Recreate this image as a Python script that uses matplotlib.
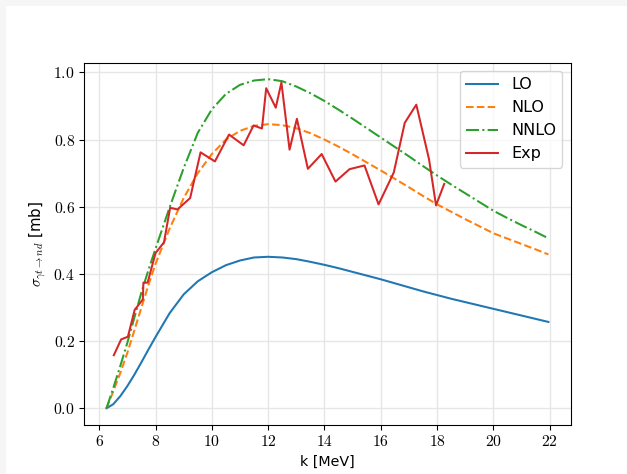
import matplotlib
matplotlib.use("Agg")
import matplotlib.pyplot as plt
from matplotlib.patches import Rectangle
from matplotlib.ticker import FormatStrFormatter

plt.rcParams["mathtext.fontset"] = "cm"

# Photon energy grid for the theory curves [MeV]
k_theory = [6.26, 6.5, 6.75, 7.0, 7.25, 7.5, 7.75, 8.0, 8.5, 9.0, 9.5, 10.0,
            10.5, 11.0, 11.5, 12.0, 12.5, 13.0, 13.5, 14.0, 14.5, 15.0, 15.5,
            16.0, 16.5, 17.0, 17.5, 18.0, 18.5, 19.0, 19.5, 20.0, 20.5, 21.0,
            21.5, 21.95]

sigma_lo = [0.0, 0.012, 0.036, 0.066, 0.100, 0.137, 0.175, 0.212, 0.283,
            0.339, 0.378, 0.405, 0.426, 0.440, 0.449, 0.451, 0.449, 0.444,
            0.436, 0.427, 0.417, 0.406, 0.395, 0.384, 0.372, 0.360, 0.348,
            0.337, 0.326, 0.316, 0.306, 0.296, 0.286, 0.276, 0.266, 0.257]

sigma_nlo = [0.0, 0.050, 0.105, 0.165, 0.232, 0.300, 0.367, 0.430, 0.535,
             0.626, 0.700, 0.757, 0.800, 0.826, 0.841, 0.846, 0.843, 0.834,
             0.819, 0.800, 0.779, 0.756, 0.732, 0.708, 0.683, 0.658, 0.632,
             0.607, 0.585, 0.563, 0.542, 0.521, 0.505, 0.489, 0.473, 0.458]

sigma_nnlo = [0.0, 0.060, 0.126, 0.195, 0.270, 0.345, 0.412, 0.475, 0.598,
              0.715, 0.820, 0.890, 0.936, 0.963, 0.976, 0.980, 0.974, 0.958,
              0.938, 0.915, 0.889, 0.862, 0.834, 0.806, 0.778, 0.750, 0.721,
              0.693, 0.666, 0.640, 0.614, 0.588, 0.566, 0.545, 0.525, 0.506]

# Measured cross section
k_exp = [6.52, 6.78, 7.02, 7.26, 7.55, 7.57, 7.72, 8.0, 8.3, 8.52, 8.78,
         9.23, 9.6, 10.11, 10.61, 11.13, 11.48, 11.78, 11.93, 12.27, 12.47,
         12.76, 13.02, 13.41, 13.9, 14.39, 14.89, 15.42, 15.92, 16.46,
         16.85, 17.26, 17.71, 17.96, 18.25]
sigma_exp = [0.158, 0.205, 0.213, 0.293, 0.324, 0.374, 0.374, 0.462, 0.494,
             0.597, 0.592, 0.626, 0.762, 0.735, 0.815, 0.783, 0.842, 0.833,
             0.953, 0.895, 0.970, 0.770, 0.862, 0.713, 0.757, 0.675, 0.712,
             0.723, 0.607, 0.702, 0.850, 0.904, 0.742, 0.604, 0.668]

W, H, DPI = 627, 474, 98
fig = plt.figure(figsize=(W / DPI, H / DPI), dpi=DPI, facecolor="#f6f6f6")
fig.patches.append(Rectangle((6 / W, 0), 1 - 6 / W, 1 - 6 / H,
                             transform=fig.transFigure, facecolor="white",
                             edgecolor="none", zorder=-10))

ax = fig.add_axes([84.4 / W, (H - 424.7) / H, 486.1 / W, 362.0 / H])
ax.set_axisbelow(True)
ax.grid(True, color="#e6e6e6", linewidth=1.0)

ax.plot(k_theory, sigma_lo, color="#1f77b4", linestyle="-", label="LO")
ax.plot(k_theory, sigma_nlo, color="#ff7f0e", linestyle="--", label="NLO")
ax.plot(k_theory, sigma_nnlo, color="#2ca02c", linestyle="-.", label="NNLO")
ax.plot(k_exp, sigma_exp, color="#d62728", linestyle="-", label="Exp")

ax.set_xticks([6, 8, 10, 12, 14, 16, 18, 20, 22])
ax.set_yticks([0.0, 0.2, 0.4, 0.6, 0.8, 1.0])
ax.xaxis.set_major_formatter(FormatStrFormatter(r"$%d$"))
ax.yaxis.set_major_formatter(FormatStrFormatter(r"$%.1f$"))
ax.tick_params(labelsize=11.5)

ax.set_xlabel("k [MeV]", fontsize=10.5)
ax.set_ylabel(r"$\sigma_{\gamma t\to nd}$ [mb]", fontsize=11)
ax.legend(loc="upper right", fontsize=11.8)

fig.savefig("out.png", dpi=DPI, facecolor=fig.get_facecolor())
